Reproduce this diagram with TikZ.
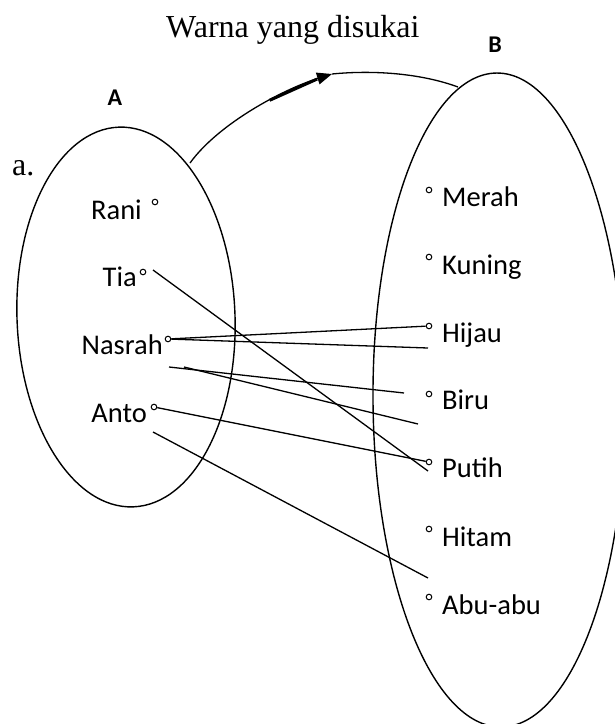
\documentclass[tikz,border=0pt]{standalone}
\usepackage{fontspec}
\setmainfont{Liberation Serif}
\newfontfamily\calfont{Carlito}
\usetikzlibrary{arrows.meta}
\begin{document}
\begin{tikzpicture}[x=1pt,y=-1pt,
  setline/.style={line width=1.4pt},
  link/.style={line width=1.3pt},
  dotn/.style={circle, draw, line width=1pt, minimum size=5.6pt, inner sep=0pt},
  lname/.style={anchor=base east, inner sep=0pt, font=\calfont\fontsize{28.5}{34}\selectfont},
  rname/.style={anchor=base west, inner sep=0pt, font=\calfont\fontsize{28.5}{34}\selectfont},
  setlabel/.style={inner sep=0pt, font=\calfont\bfseries\fontsize{24}{29}\selectfont},
  serif/.style={inner sep=0pt, anchor=base west, font=\fontsize{32}{38}\selectfont}]
\useasboundingbox (0,0) rectangle (615,724);
\clip (0,0) rectangle (615,724);

% title and labels
\node[serif] (title) at (166,37) {Warna yang disukai};
\node[serif] (item) at (12,175) {a.};
\node[setlabel] (labA) at (115,98) {A};
\node[setlabel] (labB) at (495,45) {B};

% sets
\draw[setline, rotate around={2.2:(126,317)}] (126,317) ellipse [x radius=109pt, y radius=190pt];
\draw[setline, rotate around={0.4:(499,400)}] (499,400) ellipse [x radius=126pt, y radius=327pt];

% arrow between the sets
\coordinate (arrS) at (190,163);
\coordinate (arrT) at (332,74);
\coordinate (arrE) at (458,87);
\draw[link, -{Triangle[length=15pt,width=12pt]}] (arrS) .. controls (219,123) and (284,89) .. (arrT)
  coordinate[pos=0.6] (thkA) coordinate[pos=0.9] (thkB);
\draw[link] (arrT) .. controls (372,70) and (420,73) .. (arrE);
\draw[line width=3pt] (thkA) -- (thkB);

% domain
\node[dotn] (rani) at (155,202) {};
\node[dotn] (tia) at (143,272) {};
\node[dotn] (nasrah) at (168,339) {};
\node[dotn] (anto) at (154,407) {};
\node[lname] (tRani) at (142,219) {Rani};
\node[lname] (tTia) at (137,286) {Tia};
\node[lname] (tNasrah) at (163,354) {Nasrah};
\node[lname] (tAnto) at (147,422) {Anto};

% codomain
\node[dotn] (merah) at (429,190) {};
\node[dotn] (kuning) at (429,257) {};
\node[dotn] (hijau) at (429,326) {};
\node[dotn] (biru) at (429,394) {};
\node[dotn] (putih) at (429,462) {};
\node[dotn] (hitam) at (429,529) {};
\node[dotn] (abuabu) at (429,597) {};
\node[rname] (tMerah) at (442,206) {Merah};
\node[rname] (tKuning) at (442,274) {Kuning};
\node[rname] (tHijau) at (442,342) {Hijau};
\node[rname] (tBiru) at (442,409) {Biru};
\node[rname] (tPutih) at (442,477) {Putih};
\node[rname] (tHitam) at (442,546) {Hitam};
\node[rname] (tAbu) at (442,614) {Abu-abu};

% free line ends
\coordinate (tiaS) at (153,270);
\coordinate (tiaE) at (428,471);
\coordinate (nasE) at (428,348);
\coordinate (l4S) at (169,367);
\coordinate (l4E) at (404,393);
\coordinate (l5S) at (184,367);
\coordinate (l5E) at (418,424);
\coordinate (l7S) at (153,432);
\coordinate (l7E) at (428,578);

% connectors
\draw[link] (tiaS) -- (tiaE);
\draw[link] (nasrah) -- (hijau);
\draw[link] (nasrah) -- (nasE);
\draw[link] (l4S) -- (l4E);
\draw[link] (l5S) -- (l5E);
\draw[link] (anto) -- (putih);
\draw[link] (l7S) -- (l7E);
\end{tikzpicture}
\end{document}
